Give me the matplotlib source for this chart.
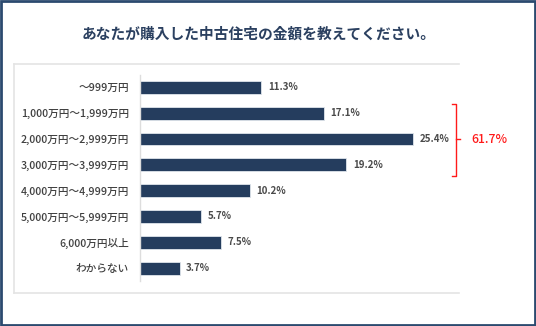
import matplotlib
matplotlib.use("Agg")
import matplotlib.pyplot as plt
from matplotlib.patches import Rectangle
from matplotlib.lines import Line2D

plt.rcParams['font.family'] = ['Noto Sans CJK JP', 'DejaVu Sans']

title = "あなたが購入した中古住宅の金額を教えてください。"
categories = ["～999万円", "1,000万円～1,999万円", "2,000万円～2,999万円", "3,000万円～3,999万円",
              "4,000万円～4,999万円", "5,000万円～5,999万円", "6,000万円以上", "わからない"]
values = [11.3, 17.1, 25.4, 19.2, 10.2, 5.7, 7.5, 3.7]
bracket_label = "61.7%"
bracket_range = (1, 3)  # categories grouped by bracket

W, H = 536, 326
fig = plt.figure(figsize=(W / 100, H / 100), dpi=100)
fig.patch.set_facecolor("white")

def fx(px):
    return px / W

def fy(py):
    return 1 - py / H

# outer border
fig.add_artist(Rectangle((fx(1), fy(325)), fx(534), 324 / H, transform=fig.transFigure,
                         fill=False, edgecolor="#2b4a6f", linewidth=2.0))
# inner light box (top, left, bottom lines)
box_col = "#e4e4e4"
fig.add_artist(Line2D([fx(14), fx(459)], [fy(63.5), fy(63.5)], transform=fig.transFigure, color=box_col, lw=1.2))
fig.add_artist(Line2D([fx(14), fx(459)], [fy(292.5), fy(292.5)], transform=fig.transFigure, color=box_col, lw=1.2))
fig.add_artist(Line2D([fx(14.5), fx(14.5)], [fy(63.5), fy(292.5)], transform=fig.transFigure, color=box_col, lw=1.2))

fig.text(fx(259), fy(33.5), title, ha="center", va="center", fontsize=10.6, fontweight="bold", color="#2b4060")

ax_left, ax_right = 140, 459
ax_top, ax_bot = 74.5, 281
ax = fig.add_axes([fx(ax_left), fy(ax_bot), fx(ax_right - ax_left), (ax_bot - ax_top) / H])
px_per_unit = 10.75
ax.set_xlim(0, (ax_right - ax_left) / px_per_unit)
ax.set_ylim(len(categories) - 0.5, -0.5)

ypos = list(range(len(categories)))
ax.barh(ypos, values, height=0.5, color="#253d5e", edgecolor="#dfe5ec", linewidth=0.6)
for y, v in zip(ypos, values):
    ax.text(v + 0.6, y, f"{v}%", va="center", ha="left", fontsize=7, fontweight="bold", color="#4a4a4a")

ax.set_yticks(ypos)
ax.set_yticklabels(categories, fontsize=7.7, color="#404040", fontweight="medium")
ax.tick_params(axis="y", length=0, pad=8)
ax.set_xticks([])
for s in ["top", "right", "bottom"]:
    ax.spines[s].set_visible(False)
ax.spines["left"].set_color("#dddddd")
ax.spines["left"].set_linewidth(1.0)
ax.patch.set_alpha(0)

# bracket
bx = (456 - ax_left) / px_per_unit
tick = 4 / px_per_unit
y0 = bracket_range[0] - 0.36
y1 = bracket_range[1] + 0.42
ym = (bracket_range[0] + bracket_range[1]) / 2
red = "#ff1a1a"
ax.plot([bx - tick, bx, bx, bx - tick], [y0, y0, y1, y1], color=red, lw=1.0, clip_on=False)
ax.plot([bx, bx + tick], [ym, ym], color=red, lw=1.0, clip_on=False)
ax.text(bx + 15 / px_per_unit, ym, bracket_label, color=red, fontsize=8.8, fontweight="medium",
        va="center", ha="left", clip_on=False)

fig.savefig("out.png", dpi=100)
